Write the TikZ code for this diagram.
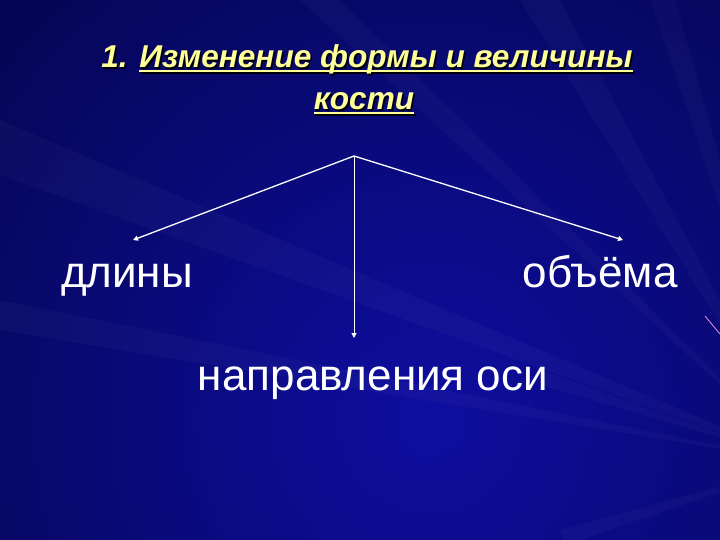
\documentclass[tikz,border=0pt]{standalone}
\usepackage{fontspec}
\setmainfont{Liberation Sans}
\usetikzlibrary{arrows.meta}
\definecolor{bgdark}{RGB}{6,6,88}
\definecolor{bgmid}{RGB}{14,14,160}
\definecolor{titleyellow}{RGB}{255,255,153}
\definecolor{raypink}{RGB}{230,150,220}
\newcommand{\ulx}[1]{\setbox0\hbox{#1}\rlap{\rule[-0.13em]{\wd0}{0.065em}}\box0}
\newcommand{\shadowed}[1]{\rlap{\kern1.5pt\raisebox{-1.5pt}{\color{black}#1}}#1}
\tikzset{
  titletext/.style={font=\fontsize{31.6}{37}\selectfont\bfseries\itshape, text=titleyellow, inner sep=0pt, anchor=base},
  bodytext/.style={font=\fontsize{44}{50}\selectfont, text=white, inner sep=0pt, anchor=base},
  link/.style={draw=white, line width=1.3pt, -{Triangle[length=5pt,width=5pt]}},
  ray/.style={fill=white, opacity=0.028}
}
\begin{document}
\begin{tikzpicture}[x=1pt,y=-1pt]
\useasboundingbox (0,0) rectangle (720,540);
% background
\fill[bgdark] (0,0) rectangle (720,540);
\shade[inner color=bgmid, outer color=bgdark] (430,420) circle (560);
% faint rays from a focus beyond the right edge
\coordinate (focus) at (806,463);
\fill[ray] (focus) -- (540,370) -- (545,386) -- cycle;
\fill[ray] (focus) -- (560,530) -- (565,545) -- cycle;
\fill[ray] (focus) -- (0,120) -- (0,175) -- cycle;
\fill[ray] (focus) -- (0,300) -- (0,330) -- cycle;
\fill[ray] (focus) -- (520,0) -- (560,0) -- cycle;
\fill[ray] (focus) -- (650,0) -- (675,0) -- cycle;
\fill[ray] (focus) -- (300,0) -- (340,0) -- cycle;
\draw[raypink, line width=0.8pt] (705,316) -- (720,334);
% title
\node[titletext] (title1) at (367,68) {\shadowed{1. \ulx{Изменение формы и величины}}};
\node[titletext] (title2) at (364,110) {\shadowed{\ulx{кости}}};
% branches
\coordinate (top) at (354,156);
\node[bodytext] (len) at (127,287) {длины};
\node[bodytext] (vol) at (600,287) {объёма};
\node[bodytext] (axis) at (373,390) {направления оси};
\coordinate (lenTip) at (133,240);
\coordinate (volTip) at (623,240);
\coordinate (axisTip) at (354,338);
\draw[link] (top) -- (lenTip);
\draw[link] (top) -- (volTip);
\draw[link, line width=1pt] (top) -- (axisTip);
\end{tikzpicture}
\end{document}
